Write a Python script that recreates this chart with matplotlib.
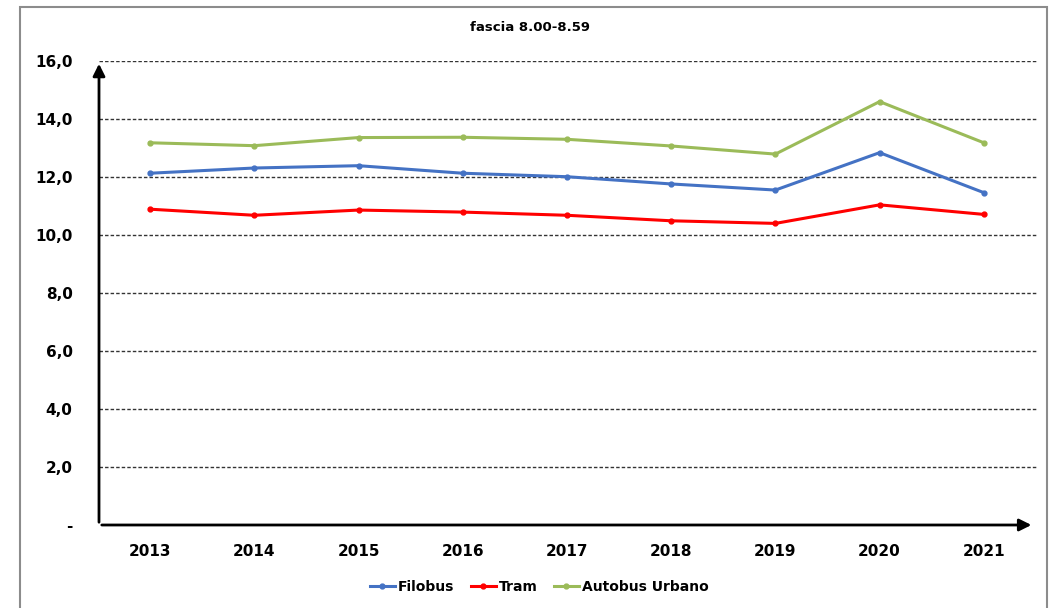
import numpy as np
import matplotlib.pyplot as plt
from matplotlib.patches import Rectangle

# values
years = ['2013', '2014', '2015', '2016', '2017', '2018', '2019', '2020', '2021']
filobus = [12.13, 12.31, 12.39, 12.13, 12.01, 11.76, 11.55, 12.84, 11.46]
tram = [10.89, 10.68, 10.86, 10.79, 10.68, 10.49, 10.40, 11.04, 10.71]
autobus = [13.18, 13.08, 13.36, 13.37, 13.30, 13.07, 12.79, 14.60, 13.18]
y_ticks = [0, 2, 4, 6, 8, 10, 12, 14, 16]
y_labels = ['-', '2,0', '4,0', '6,0', '8,0', '10,0', '12,0', '14,0', '16,0']

plt.rcParams['font.family'] = 'DejaVu Sans'
plt.rcParams['font.weight'] = 'bold'

fig = plt.figure(figsize=(10.51, 6.08), dpi=100)
ax = fig.add_axes([99/1051, 83/608, 938/1051, 464/608])

x = np.arange(len(years))
ax.plot(x, filobus, color='#4472C4', lw=2.2, marker='o', ms=3.5, label='Filobus')
ax.plot(x, tram, color='#FF0000', lw=2.2, marker='o', ms=3.5, label='Tram')
ax.plot(x, autobus, color='#9BBB59', lw=2.2, marker='o', ms=3.5, label='Autobus Urbano')

ax.set_xlim(-0.49, 8.51)
ax.set_ylim(0, 16)
ax.set_xticks(x)
ax.set_xticklabels(years, fontsize=11, fontweight='bold')
ax.set_yticks(y_ticks)
ax.set_yticklabels(y_labels, fontsize=11, fontweight='bold')
ax.tick_params(length=0)
ax.tick_params(axis='x', pad=14)
ax.tick_params(axis='y', pad=19)

for v in y_ticks[1:]:
    ax.axhline(v, color='#333333', lw=1, ls=(0, (2.5, 1.5)), zorder=0)

for s in ax.spines.values():
    s.set_visible(False)

# axis arrows
ax.annotate('', xy=(0.997, 0), xytext=(0, 0), xycoords='axes fraction',
            arrowprops=dict(arrowstyle='-|>', color='black', lw=2, mutation_scale=18),
            annotation_clip=False)
ax.annotate('', xy=(0, 1.0), xytext=(0, 0), xycoords='axes fraction',
            arrowprops=dict(arrowstyle='-|>', color='black', lw=2, mutation_scale=18),
            annotation_clip=False)

fig.text(0.504, 0.954, 'fascia 8.00-8.59', ha='center', va='center', fontsize=9.5, fontweight='bold')

fig.legend(loc='center', bbox_to_anchor=(0.513, 0.034), ncol=3, frameon=False,
           fontsize=10, handlelength=1.8, columnspacing=1.2, handletextpad=0.2)

fig.patches.append(Rectangle((20/1051, -0.02), 1027/1051, 1.02 - 7/608,
                             transform=fig.transFigure, fill=False, ec='#8c8c8c', lw=1.5))

fig.savefig('out.png', dpi=100)
